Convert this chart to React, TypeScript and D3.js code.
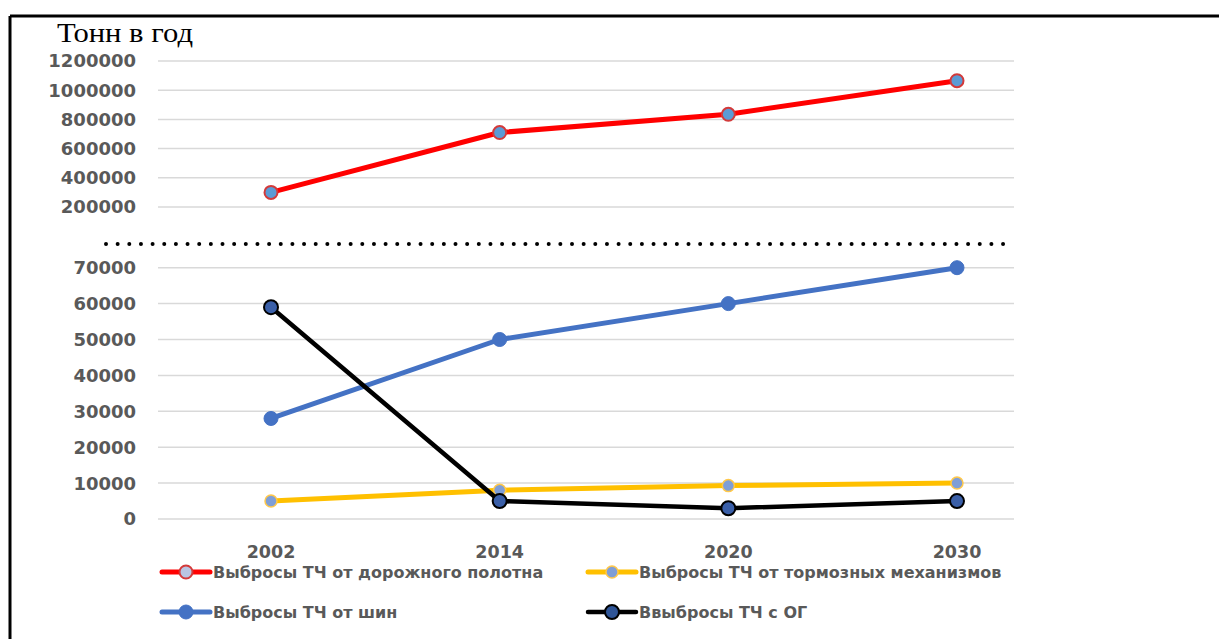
import React, { useEffect, useRef } from "react";
import * as d3 from "d3";

const years = ["2002", "2014", "2020", "2030"];
const roadValues = [300000, 710000, 835000, 1065000];
const brakeValues = [5000, 8000, 9300, 10000];
const tireValues = [28000, 50000, 60000, 70000];
const exhaustValues = [59000, 5000, 3000, 5000];
const topTicks = [200000, 400000, 600000, 800000, 1000000, 1200000];
const bottomTicks = [0, 10000, 20000, 30000, 40000, 50000, 60000, 70000];
const legendLabels = [
  "Выбросы ТЧ от дорожного полотна",
  "Выбросы ТЧ от тормозных механизмов",
  "Выбросы ТЧ от шин",
  "Ввыбросы ТЧ с ОГ",
];
const unitLabel = "Тонн в год";

const W = 1219;
const H = 639;

export default function App() {
  const ref = useRef<SVGSVGElement>(null);

  useEffect(() => {
    const svg = d3.select(ref.current);
    svg.selectAll("*").remove();

    const font = "'DejaVu Sans', sans-serif";
    const grey = "#595959";

    // frame (top and left only)
    svg.append("line").attr("x1", 10).attr("y1", 16).attr("x2", W).attr("y2", 16)
      .attr("stroke", "#000").attr("stroke-width", 3);
    svg.append("line").attr("x1", 10).attr("y1", 16).attr("x2", 10).attr("y2", H)
      .attr("stroke", "#000").attr("stroke-width", 3);

    const x = d3.scalePoint<string>().domain(years).range([271, 957]);
    const yTop = d3.scaleLinear().domain([0, 1200000]).range([236.2, 61]);
    const yBot = d3.scaleLinear().domain([0, 70000]).range([519, 267.7]);
    const gridX0 = 158;
    const gridX1 = 1014;

    // gridlines + tick labels
    const drawTicks = (ticks: number[], y: d3.ScaleLinear<number, number>) => {
      const g = svg.append("g");
      g.selectAll("line").data(ticks).enter().append("line")
        .attr("x1", gridX0).attr("x2", gridX1)
        .attr("y1", (d) => y(d)).attr("y2", (d) => y(d))
        .attr("stroke", "#D9D9D9").attr("stroke-width", 1.5);
      g.selectAll("text").data(ticks).enter().append("text")
        .attr("x", 136).attr("y", (d) => y(d))
        .attr("dy", "0.36em")
        .attr("text-anchor", "end")
        .attr("font-family", font).attr("font-weight", "bold")
        .attr("font-size", 18).attr("fill", grey)
        .text((d) => String(d));
    };
    drawTicks(topTicks, yTop);
    drawTicks(bottomTicks, yBot);

    // break line
    svg.append("line").attr("x1", 106).attr("x2", 1010).attr("y1", 244).attr("y2", 244)
      .attr("stroke", "#000").attr("stroke-width", 4)
      .attr("stroke-linecap", "round").attr("stroke-dasharray", "0 11.65");

    // x labels
    svg.append("g").selectAll("text").data(years).enter().append("text")
      .attr("x", (d) => x(d)!).attr("y", 558)
      .attr("text-anchor", "middle")
      .attr("font-family", font).attr("font-weight", "bold")
      .attr("font-size", 17.5).attr("fill", grey)
      .text((d) => d);

    // title
    svg.append("text").attr("x", 57).attr("y", 41.5)
      .attr("font-family", "'Liberation Serif', serif").attr("font-size", 27)
      .attr("textLength", 136).attr("lengthAdjust", "spacingAndGlyphs")
      .attr("fill", "#000").text(unitLabel);

    const series = [
      { values: roadValues, y: yTop, color: "#FF0000", width: 5, r: 6.5, fill: "#5B9BD5", stroke: "#D33A3A", sw: 2, legendFill: "#B9C5E2" },
      { values: brakeValues, y: yBot, color: "#FFC000", width: 5, r: 6, fill: "#7F9ED6", stroke: "#FFC84A", sw: 1.5, legendFill: "#7F9ED6" },
      { values: tireValues, y: yBot, color: "#4472C4", width: 5, r: 7, fill: "#4472C4", stroke: "#4472C4", sw: 1, legendFill: "#4472C4" },
      { values: exhaustValues, y: yBot, color: "#000000", width: 4.5, r: 7, fill: "#3A5FA8", stroke: "#000000", sw: 2, legendFill: "#2F5597" },
    ];

    series.forEach((s) => {
      const line = d3.line<number>()
        .x((_, i) => x(years[i])!)
        .y((d) => s.y(d));
      svg.append("path").datum(s.values).attr("d", line)
        .attr("fill", "none").attr("stroke", s.color)
        .attr("stroke-width", s.width).attr("stroke-linejoin", "round");
      svg.append("g").selectAll("circle").data(s.values).enter().append("circle")
        .attr("cx", (_, i) => x(years[i])!).attr("cy", (d) => s.y(d))
        .attr("r", s.r).attr("fill", s.fill)
        .attr("stroke", s.stroke).attr("stroke-width", s.sw);
    });

    // legend
    const legendPos = [
      [162, 572], [588, 572], [162, 612], [588, 612],
    ];
    series.forEach((s, i) => {
      const [lx, ly] = legendPos[i];
      const g = svg.append("g").attr("transform", `translate(${lx},${ly})`);
      g.append("line").attr("x1", 0).attr("x2", 48).attr("y1", 0).attr("y2", 0)
        .attr("stroke", s.color).attr("stroke-width", s.width).attr("stroke-linecap", "round");
      g.append("circle").attr("cx", 24).attr("cy", 0).attr("r", s.r)
        .attr("fill", s.legendFill).attr("stroke", s.stroke).attr("stroke-width", s.sw);
      g.append("text").attr("x", 51).attr("y", 0).attr("dy", "0.36em")
        .attr("font-family", font).attr("font-weight", "bold")
        .attr("font-size", 16).attr("fill", grey)
        .text(legendLabels[i]);
    });
  }, []);

  return (
    <svg
      ref={ref}
      width={W}
      height={H}
      style={{ position: "absolute", left: 0, top: 0, background: "#fff" }}
    />
  );
}
